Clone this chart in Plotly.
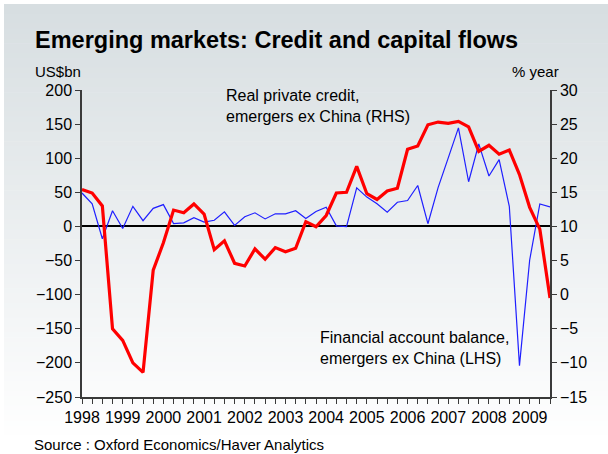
import plotly.graph_objects as go

# Quarterly observations, 1998Q1 .. 2009Q3
quarters = [f"{y}Q{q}" for y in range(1998, 2010) for q in range(1, 5)][:47]

# Financial account balance, emergers ex China (US$bn, LHS)
fin_account = [49, 33, -18, 23, -3, 29.5, 8.5, 26.5, 32, 4.2, 5.2, 12.7, 6.5, 9, 21.5, 1.5,
               14.2, 20, 11, 18.5, 18.5, 23, 11.5, 22, 28.3, 0.8, -0.3, 56.6, 43, 33.2, 21,
               35.5, 38, 60, 4, 57, 100.5, 144.5, 65.5, 121, 74, 98, 29.5, -204, -49.5, 33, 28.5]

# Real private credit, emergers ex China (% year, RHS)
real_credit = [15.4, 14.9, 13.0, -5.0, -6.7, -10.0, -11.4, 3.6, 7.6, 12.4, 12.0, 13.3, 11.8,
               6.6, 7.9, 4.6, 4.2, 6.7, 5.2, 6.9, 6.3, 6.8, 10.7, 9.95, 11.6, 14.9, 15.0, 18.8,
               14.8, 13.95, 15.2, 15.6, 21.3, 21.8, 24.9, 25.3, 25.1, 25.4, 24.6, 21.0, 21.9,
               20.6, 21.2, 17.6, 12.8, 9.6, -0.5]

year_labels = [str(y) for y in range(1998, 2010)]

FONT = "Arial, Liberation Sans, sans-serif"
W, H = 608, 454
L, R, T, B = 82, 550, 90, 397  # plot-area edges in pixels


def px_x(px):
    return (px - L) / (R - L)


def px_y(py):
    return (B - py) / (B - T)


x = list(range(len(quarters)))
ticktext = [year_labels[i // 4] if i % 4 == 0 else "" for i in x]

fig = go.Figure()
fig.add_trace(go.Scatter(x=x, y=fin_account, mode="lines", yaxis="y",
                         line=dict(color="#1f1fff", width=1.2), showlegend=False,
                         hoverinfo="skip"))
fig.add_trace(go.Scatter(x=x, y=real_credit, mode="lines", yaxis="y2",
                         line=dict(color="#ff0000", width=3.2), showlegend=False,
                         hoverinfo="skip"))

# Vertical background gradient built from thin horizontal bands
shapes = []
top_rgb = (215, 222, 225)
n = 90
y0p, y1p = 4, 445
for k in range(n):
    a = y0p + (y1p - y0p) * k / n
    b = y0p + (y1p - y0p) * (k + 1) / n
    t = k / (n - 1)
    c = tuple(int(round(top_rgb[j] + (255 - top_rgb[j]) * t)) for j in range(3))
    shapes.append(dict(type="rect", xref="paper", yref="paper", layer="below",
                       x0=px_x(4), x1=px_x(W + 2), y0=px_y(b + 0.6), y1=px_y(a),
                       fillcolor=f"rgb{c}", line=dict(width=0)))

axis_col = "#3a3a3a"
tick_font = dict(family=FONT, size=16, color="#000000")

annotations = [
    dict(text="<b>Emerging markets: Credit and capital flows</b>", x=px_x(33), y=px_y(40),
         xref="paper", yref="paper", xanchor="left", yanchor="middle", showarrow=False,
         font=dict(family=FONT, size=23.5, color="#000000")),
    dict(text="US$bn", x=px_x(33), y=px_y(71), xref="paper", yref="paper",
         xanchor="left", yanchor="middle", showarrow=False,
         font=dict(family=FONT, size=15, color="#000000")),
    dict(text="% year", x=px_x(561), y=px_y(71), xref="paper", yref="paper",
         xanchor="right", yanchor="middle", showarrow=False,
         font=dict(family=FONT, size=15, color="#000000")),
    dict(text="Real private credit,<br>emergers ex China (RHS)", x=px_x(224), y=px_y(106),
         xref="paper", yref="paper", xanchor="left", yanchor="middle", align="left",
         showarrow=False, font=dict(family=FONT, size=16, color="#000000")),
    dict(text="Financial account balance,<br>emergers ex China (LHS)", x=px_x(318), y=px_y(348),
         xref="paper", yref="paper", xanchor="left", yanchor="middle", align="left",
         showarrow=False, font=dict(family=FONT, size=16, color="#000000")),
    dict(text="Source : Oxford Economics/Haver Analytics", x=px_x(32), y=px_y(444),
         xref="paper", yref="paper", xanchor="left", yanchor="middle", showarrow=False,
         font=dict(family=FONT, size=15, color="#000000")),
]

fig.update_layout(
    width=W, height=H,
    margin=dict(l=L, r=W - R, t=T, b=H - B, pad=0),
    paper_bgcolor="#ffffff",
    plot_bgcolor="rgba(0,0,0,0)",
    shapes=shapes,
    annotations=annotations,
    xaxis=dict(range=[0, len(x) - 1], tickmode="array", tickvals=x, ticktext=ticktext,
               ticks="outside", ticklen=5, tickwidth=1, tickcolor=axis_col,
               showline=True, linecolor=axis_col, linewidth=1.5, showgrid=False,
               zeroline=False, tickfont=tick_font, tickangle=0, fixedrange=True),
    yaxis=dict(range=[-250, 200], dtick=50, tick0=0, ticks="outside", ticklen=5,
               tickcolor=axis_col, showline=True, linecolor=axis_col, linewidth=1.5,
               showgrid=False, zeroline=True, zerolinecolor="#000000", zerolinewidth=1.5,
               tickfont=tick_font, fixedrange=True),
    yaxis2=dict(range=[-15, 30], dtick=5, tick0=0, overlaying="y", side="right",
                ticks="outside", ticklen=5, tickcolor=axis_col, showline=True,
                linecolor=axis_col, linewidth=1.5, showgrid=False, zeroline=False,
                tickfont=tick_font, fixedrange=True),
)

fig.write_html("out.html")
